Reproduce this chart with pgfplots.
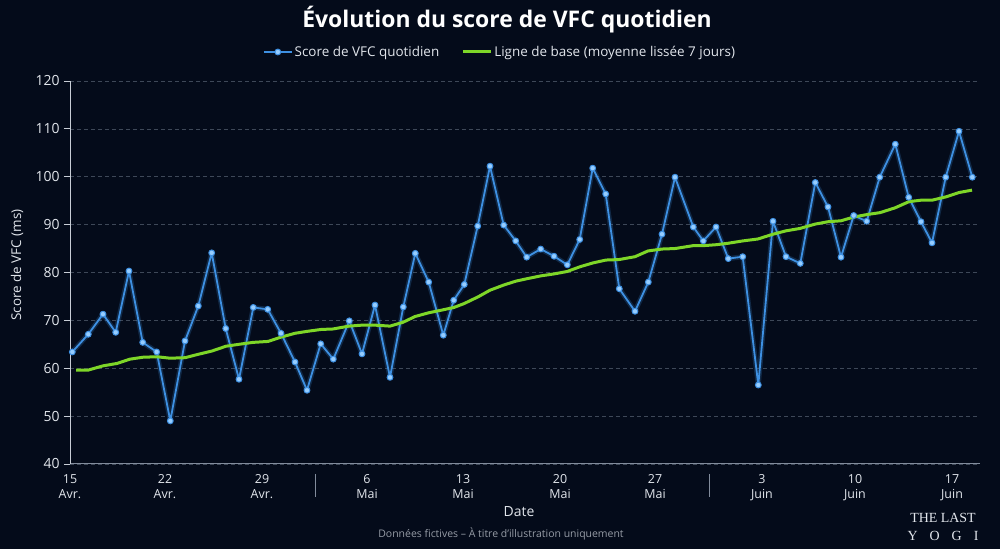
\documentclass[border=0pt]{standalone}
\usepackage{pgfplots}
\pgfplotsset{compat=1.18}
\usepackage{fontspec}
\setmainfont{Open Sans}
\newfontfamily\logofont{Liberation Serif}
\definecolor{bgc}{RGB}{4,11,26}
\definecolor{hrvblue}{RGB}{62,144,226}
\definecolor{hrvmark}{RGB}{150,205,255}
\definecolor{basegreen}{RGB}{126,214,40}
\definecolor{gridc}{RGB}{62,72,88}
\definecolor{txtc}{RGB}{226,230,236}
\definecolor{subc}{RGB}{150,156,166}
\definecolor{axc}{RGB}{200,205,214}
\definecolor{xaxc}{RGB}{130,140,156}

\pgfplotstableread{
x y
72.3 63.4
88.3 67.1
103 71.3
115.7 67.5
129 80.3
142.7 65.4
156.7 63.4
170.3 49.0
185 65.7
198.3 73.0
211.7 84.1
225.7 68.3
239 57.7
253.3 72.7
267.7 72.3
281 67.3
295 61.3
307 55.4
320.7 65.1
333.3 61.9
349.3 69.9
362 63.0
375 73.2
390 58.1
403.3 72.8
415.3 84.0
428.7 78.0
443.3 66.9
453.7 74.2
464.3 77.5
477.7 89.7
490 102.2
503.7 89.9
515.7 86.6
526.7 83.2
540.7 84.9
554 83.4
567.3 81.6
579.7 86.9
592.7 101.8
605.7 96.4
619.3 76.6
635 71.9
648.3 78.0
662 88.0
675 99.9
693.3 89.5
703.3 86.6
716 89.5
728.3 82.9
742.7 83.3
758.3 56.5
773 90.7
786 83.3
800.3 81.9
815.3 98.8
828 93.7
841 83.2
853.7 91.9
866.7 90.7
879.7 99.9
895.3 106.8
908.7 95.7
921 90.6
932 86.2
945.7 99.9
959 109.5
972.3 99.9
}\dailytable

\pgfplotstableread{
x y
76 59.6
88 59.6
103 60.5
117 61.0
130 61.9
143 62.3
157 62.4
170 62.1
185 62.2
198 62.9
212 63.6
226 64.6
239 65.0
253 65.4
268 65.6
281 66.5
295 67.3
307 67.7
321 68.1
333 68.2
349 68.8
362 69.0
375 69.0
390 68.8
403 69.6
415 70.8
429 71.6
443 72.2
454 72.7
464 73.5
478 74.9
490 76.3
504 77.4
516 78.2
527 78.7
541 79.3
554 79.7
567 80.2
580 81.2
593 82.0
606 82.6
619 82.7
635 83.3
648 84.5
662 84.9
675 85.0
693 85.6
703 85.6
716 85.8
728 86.1
743 86.6
758 87.0
773 88.0
786 88.7
800 89.2
815 90.1
828 90.6
841 90.8
854 91.6
867 92.1
880 92.5
895 93.5
909 94.8
921 95.1
932 95.1
946 95.8
959 96.7
972 97.2
}\basetable

\begin{document}
\begin{tikzpicture}[x=1bp,y=1bp]
\fill[bgc] (0,0) rectangle (1000,549);
\useasboundingbox (0,0) rectangle (1000,549);
\begin{axis}[
  at={(70bp,85bp)}, anchor=south west,
  scale only axis, width=910bp, height=383bp,
  xmin=70, xmax=980, ymin=40, ymax=120,
  axis lines*=left,
  x axis line style={draw=xaxc, line width=1bp},
  y axis line style={draw=axc, line width=1bp},
  ytick={40,50,...,120},
  xtick={70,165,262,367,463,560,655,762,855,952},
  xticklabels={{15\\Avr.},{22\\Avr.},{29\\Avr.},{6\\Mai},{13\\Mai},{20\\Mai},{27\\Mai},{3\\Juin},{10\\Juin},{17\\Juin}},
  xticklabel style={align=center, text=txtc, font=\fontsize{12.5}{15}\selectfont, yshift=-1bp},
  yticklabel style={text=txtc, font=\fontsize{14}{16}\selectfont, xshift=-1bp},
  /pgf/number format/assume math mode=true,
  xtick style={draw=none},
  ytick style={draw=axc, line width=0.8bp},
  tick align=outside, major tick length=6bp,
  ymajorgrids,
  grid style={draw=gridc, dash pattern=on 4bp off 3bp, line width=0.7bp},
  legend style={at={(0.4725,1.0757)}, anchor=center, draw=none, fill=none,
    text=txtc, font=\fontsize{13.5}{16}\selectfont,
    /tikz/every even column/.append style={column sep=20bp}},
  legend columns=2,
  legend cell align=left,
  legend image code/.code={\draw[mark repeat=2,mark phase=2] plot coordinates {(0bp,0bp) (14bp,0bp) (28bp,0bp)};},
]
\addplot[forget plot, draw=hrvblue, opacity=0.22, line width=5bp, line join=round] table[x=x,y=y] {\dailytable};
\addplot[draw=hrvblue, line width=1.8bp, line join=round,
  mark=*, mark size=2.9bp, mark options={fill=hrvmark, draw=hrvblue, line width=1bp}] table[x=x,y=y] {\dailytable};
\addlegendentry{Score de VFC quotidien}
\addplot[draw=basegreen, line width=3bp, line join=round, no marks] table[x=x,y=y] {\basetable};
\addlegendentry{Ligne de base (moyenne liss\'ee 7 jours)}
\end{axis}
\node[text=white, font=\fontsize{23}{27}\selectfont\bfseries] at (507,529) {Évolution du score de VFC quotidien};
\node[text=txtc, rotate=90, font=\fontsize{13.5}{16}\selectfont] at (17,284) {Score de VFC (ms)};
\node[text=txtc, font=\fontsize{14}{16}\selectfont] at (519,37) {Date};
\node[text=subc, font=\fontsize{10.5}{12}\selectfont] at (501,15) {Données fictives – À titre d’illustration uniquement};
\draw[xaxc, line width=1bp] (315,75) -- (315,52);
\draw[xaxc, line width=1bp] (709,75) -- (709,52);
\node[text=txtc, font=\logofont\fontsize{14}{15}\selectfont] at (943,31) {THE LAST};
\node[text=txtc, font=\logofont\fontsize{14}{15}\selectfont] at (943,13) {Y\hspace{12bp}O\hspace{12bp}G\hspace{12bp}I};
\end{tikzpicture}
\end{document}
